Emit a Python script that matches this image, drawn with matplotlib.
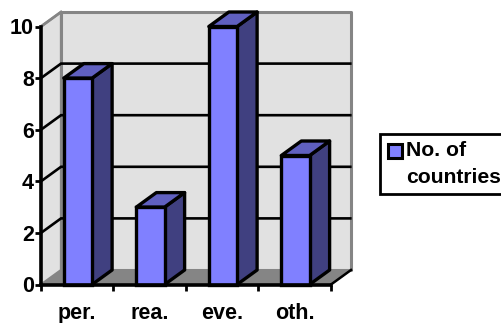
import matplotlib
matplotlib.use("Agg")
import matplotlib.pyplot as plt
from matplotlib.patches import Polygon, Rectangle

categories = ["per.", "rea.", "eve.", "oth."]
countries = [8, 3, 10, 5]
y_ticks = [0, 2, 4, 6, 8, 10]
legend_lines = ["No. of", "countries"]

W, H = 501, 323
plt.rcParams["font.family"] = ["Liberation Sans", "DejaVu Sans"]
plt.rcParams["font.weight"] = "bold"

fig = plt.figure(figsize=(W / 100, H / 100), dpi=100)
# axes cover the front plane of the 3D box
ax = fig.add_axes([41 / W, 1 - 284.5 / H, 290 / W, 258 / H])
ax.set_xlim(0, len(categories))
ax.set_ylim(0, 10)

# depth of the box in data units
dx = 20 / 72.5
dy = 14.5 / 25.8
bar_w = 0.39


def poly(pts, fc, ec, lw=2.4, z=1):
    ax.add_patch(Polygon(pts, closed=True, fc=fc, ec=ec, lw=lw, zorder=z,
                         clip_on=False, joinstyle="round"))


n = len(categories)
wall = "#e1e1e1"
edge = "#858585"

# floor and walls
poly([(0, 0), (n, 0), (n + dx, dy), (dx, dy)], edge, edge, lw=1, z=1)
poly([(0, 0), (dx, dy), (dx, 10 + dy), (0, 10)], wall, edge, lw=1.6, z=1)
poly([(dx, dy), (n + dx, dy), (n + dx, 10 + dy), (dx, 10 + dy)], wall, edge, lw=2.2, z=1)

# gridlines run across the side wall and along the back wall
for v in y_ticks[1:-1]:
    ax.plot([0, dx, n + dx - 0.01], [v, v + dy, v + dy], color="black", lw=1.9,
            zorder=2, clip_on=False, solid_joinstyle="miter")
ax.plot([0, dx], [10, 10 + dy], color=edge, lw=2, zorder=2, clip_on=False)

# bars, drawn back to front faces
for i, val in enumerate(countries):
    x0 = i + 0.5 - bar_w / 2 + 0.01
    x1 = x0 + bar_w
    poly([(x1, 0), (x1 + dx, dy), (x1 + dx, val + dy), (x1, val)], "#404080", "black", z=3)
    poly([(x0, val), (x1, val), (x1 + dx, val + dy), (x0 + dx, val + dy)], "#6060c0", "black", z=3)
ax.bar([i + 0.51 for i in range(n)], countries, width=bar_w, color="#8080ff",
       edgecolor="black", linewidth=2.4, zorder=4, clip_on=False)

for s in ["top", "right"]:
    ax.spines[s].set_visible(False)
for s in ["left", "bottom"]:
    ax.spines[s].set_linewidth(2.6)
    ax.spines[s].set_zorder(5)
ax.patch.set_visible(False)

ax.set_yticks(y_ticks)
ax.set_yticklabels([str(t) for t in y_ticks], fontsize=15.5, fontweight="bold")
ax.set_xticks(range(n + 1))
ax.set_xticklabels([""] * (n + 1))
ax.tick_params(axis="y", length=4, width=2, pad=1)
ax.tick_params(axis="x", length=4, width=2, pad=1, direction="out")
for i, name in enumerate(categories):
    ax.annotate(name, xy=(i + 0.5, 0), xytext=(0, -24.5), textcoords="offset points",
                ha="center", va="baseline", fontsize=15.5, fontweight="bold")

# right end of the floor's front corner
ax.plot([n, n + dx], [0, dy], color="black", lw=1.8, zorder=2, clip_on=False)

# legend box built in figure pixels
fig.add_artist(Rectangle((380 / W, 1 - 194 / H), 130 / W, 60.5 / H, transform=fig.transFigure,
                         fc="white", ec="black", lw=2))
fig.add_artist(Rectangle((388 / W, 1 - 158 / H), 13.5 / W, 14 / H, transform=fig.transFigure,
                         fc="#8080ff", ec="black", lw=2.2))
fig.text(406 / W, 1 - 156 / H, legend_lines[0], fontsize=15.2, fontweight="bold", va="baseline")
fig.text(406 / W, 1 - 183 / H, legend_lines[1], fontsize=15.2, fontweight="bold", va="baseline")

fig.savefig("out.png", dpi=100)
